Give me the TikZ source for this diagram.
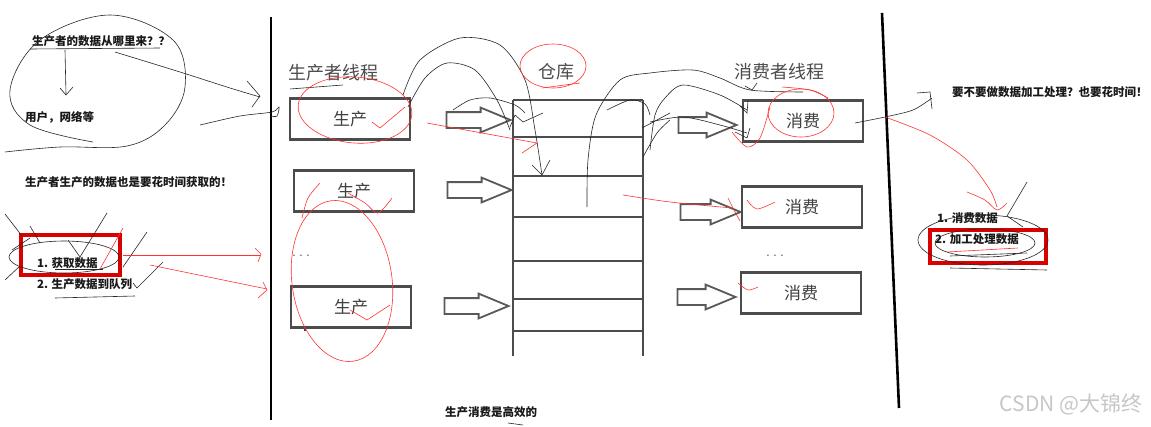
\documentclass[tikz,border=0pt]{standalone}
\usepackage{fontspec}
\newfontfamily\cjk{Noto Sans CJK SC}
\usetikzlibrary{shapes.arrows}
\tikzset{
 note/.style={font=\cjk\bfseries\fontsize{11.5}{13}\selectfont, inner sep=0, anchor=west, text=black!90},
 ttl/.style={font=\cjk\fontsize{18}{20}\selectfont, text=black!70, inner sep=0},
 tbox/.style={draw=black!70, line width=2.2pt, minimum width=120, minimum height=41, font=\cjk\fontsize{17}{19}\selectfont, text=black!75, inner sep=0},
 barrow/.style={single arrow, draw=black!65, line width=1.8pt, fill=white, minimum height=64, inner xsep=0pt, inner ysep=7pt, single arrow head extend=4.5pt, single arrow tip angle=45},
 redbox/.style={draw=red!85!black, line width=4pt},
 pen/.style={line width=0.6pt, black!85},
 rpen/.style={line width=0.6pt, red!80},
 sep/.style={line width=2.6pt},
 wh/.style={line width=2pt, black!70},
}
\begin{document}
\begin{tikzpicture}[x=1pt,y=-1pt]
\useasboundingbox (0,0) rectangle (1151,426);
\fill[white] (0,0) rectangle (1151,426);
% separators
\draw[sep] (271,17) -- (271,420);
\draw[sep] (882,13) -- (899,408);
% left notes
\node[note] (q1) at (32,41) {生产者的数据从哪里来？？};
\node[note] (q2) at (25,117) {用户，网络等};
\node[note] (q3) at (25,182) {生产者生产的数据也是要花时间获取的！};
\node[note] (s1) at (37,263) {1. 获取数据};
\node[note] (s2) at (37,284) {2. 生产数据到队列};
\draw[redbox] (21,235) rectangle (120,275);
% titles
\node[ttl] (tp) at (333,73) {生产者线程};
\node[ttl] (tw) at (556,72) {仓库};
\node[ttl] (tc) at (779,72) {消费者线程};
% producer boxes
\node[tbox] (p1) at (350,119) {生产};
\node[tbox] (p2) at (354,191) {生产};
\node[tbox] (p3) at (351,307) {生产};
\node[font=\cjk\fontsize{12}{12}\selectfont, text=black!60, inner sep=0] (pd) at (301,256) {. . .};
\fill (305,330) circle (1.2);
% producer arrows
\node[barrow] (a1) at (469,120) {};
\node[barrow] (a2) at (470,190) {};
\node[barrow] (a3) at (467,306) {};
% warehouse
\draw[wh] (513,100) -- (513,356) (643,100) -- (643,356);
\foreach \yy in {100,137,176,217,261,299,331} \draw[wh] (513,\yy) -- (643,\yy);
% consumer arrows
\node[barrow, minimum height=58] (c1a) at (698,125) {};
\node[barrow, minimum height=60] (c2a) at (701,212) {};
\node[barrow, minimum height=58] (c3a) at (697,297) {};
% consumer boxes
\node[tbox] (c1) at (803,121) {消费};
\node[tbox] (c2) at (802,207) {消费};
\node[tbox] (c3) at (801,293) {消费};
\node[font=\cjk\fontsize{12}{12}\selectfont, text=black!60, inner sep=0] (cd) at (775,256) {. . .};
% right notes
\node[note] (r1) at (952,92) {要不要做数据加工处理？也要花时间！};
\node[note] (r2) at (937,218) {1. 消费数据};
\node[note] (r3) at (935,239) {2. 加工处理数据};
\draw[redbox] (930,230) rectangle (1046,263);
% bottom
\node[note, anchor=center] (bt) at (491,412) {生产消费是高效的};
\draw[pen] (508,423) -- (523,425);
\node[font=\cjk\fontsize{21}{21}\selectfont, text=black!22, inner sep=0] (wm) at (1071,404) {CSDN @大锦终};

% ---- black scribbles, left
\draw[pen] plot[smooth, tension=0.6] coordinates {(5,152) (60,147) (127,146) (165,125) (185,87) (173,40) (110,15) (40,40) (10,90) (30,125) (93,142)};
\draw[pen] (30,49) -- (160,48);
\draw[pen] (65,50) -- (66,94);
\draw[pen] (60,88) -- (66,95) -- (73,87);
\draw[pen] plot[smooth] coordinates {(115,52) (180,72) (230,88) (260,97)};
\draw[pen] (247,81) -- (260,96) -- (252,107);
\draw[pen] plot[smooth] coordinates {(200,125) (240,116) (272,112) (279,107) (277,116) (271,116)};
\draw[pen] (64,257) ellipse [x radius=55, y radius=16];
\draw[pen] (5,214) -- (22,236);
\draw[pen] (5,280) -- (20,266);
\draw[pen] (30,226) -- (40,243);
\draw[pen] (12,250) -- (30,238);
\draw[pen] (68,240) -- (80,257) -- (107,213);
\draw[pen] (147,232) -- (123,267);
\draw[pen] (55,269) -- (103,269);
\draw[pen] (133,283) -- (137,288) -- (163,262);
\draw[pen] (55,298) -- (135,296);
% ---- red scribbles, left
\draw[rpen] (123,255) -- (260,255);
\draw[rpen] (255,248) -- (261,254) -- (258,262);
\draw[rpen] (150,265) -- (267,289);
\draw[rpen] (263,282) -- (267,290) -- (258,298);
\draw[rpen] (100,269) -- (123,228);

% ---- black scribbles, middle
\draw[pen] (290,89) -- (343,85);
\draw[pen] plot[smooth] coordinates {(403,95) (420,60) (460,38) (500,45) (525,80) (535,130) (542,175)};
\draw[pen] (532,165) -- (542,175) -- (550,160);
\draw[pen] plot[smooth] coordinates {(408,107) (425,78) (447,63) (475,70) (497,100) (510,130)};
\draw[pen] plot[smooth] coordinates {(453,110) (470,100) (490,98) (515,105) (525,113)};
\draw[pen] (510,127) -- (515,115) -- (523,122) -- (543,113);
\draw[pen] plot[smooth] coordinates {(587,207) (588,160) (596,115) (620,80) (650,73) (693,70) (720,78) (750,90) (803,92)};
\draw[pen] (745,86) -- (752,90) -- (757,83);
\draw[pen] plot[smooth] coordinates {(650,150) (655,115) (665,98) (683,85) (720,95) (747,110)};
\draw[pen] (740,106) -- (747,113) -- (748,101);
\draw[pen] plot[smooth] coordinates {(650,122) (683,117) (720,125) (747,133)};
\draw[pen] (735,132) -- (747,138) -- (750,128);
\draw[pen] plot[smooth] coordinates {(607,110) (630,100) (645,104) (650,115)};
\draw[pen] (642,128) -- (670,113);
\draw[pen] plot[smooth] coordinates {(643,157) (657,133) (670,120)};
\draw[pen] plot[smooth] coordinates {(855,123) (885,117) (913,110) (932,98)};
\draw[pen] (917,93) -- (930,92) -- (932,109);
% ---- red scribbles, middle
\draw[rpen, rotate around={-5:(355,110)}] (355,110) ellipse [x radius=57, y radius=33];
\draw[rpen] (372,122) -- (380,128) -- (405,107);
\draw[rpen] (427,123) -- (537,143) -- (522,153);
\draw[rpen] plot[smooth] coordinates {(623,195) (670,202) (732,208)};
\draw[rpen] plot[smooth] coordinates {(728,198) (734,210) (740,221)};
\draw[rpen] plot[smooth] coordinates {(747,200) (757,209) (775,202)};
\draw[rpen] plot[smooth] coordinates {(320,183) (308,198) (302,218)};
\draw[rpen] plot[smooth] coordinates {(348,193) (365,203) (378,213) (392,198)};
\draw[rpen, rotate around={8:(342,281)}] (342,281) ellipse [x radius=50, y radius=81];
\draw[rpen] (350,310) -- (367,320) -- (390,305);
\draw[rpen] (553,66) ellipse [x radius=33, y radius=22];
\draw[rpen] (542,88) -- (580,83);
\draw[rpen] (801,113) ellipse [x radius=33, y radius=24];
\draw[rpen] plot[smooth] coordinates {(782,87) (810,90) (828,98)};
\draw[rpen] plot[smooth] coordinates {(770,107) (760,138) (747,147) (732,132)};
\draw[rpen] plot[smooth] coordinates {(738,283) (748,290) (758,287)};
\draw[rpen] plot[smooth] coordinates {(885,117) (930,135) (967,160) (990,190) (997,207)};
\draw[rpen] plot[smooth] coordinates {(967,192) (985,200) (997,210) (1007,203)};
% ---- right scribbles
\draw[pen] (983,240) ellipse [x radius=65, y radius=25];
\draw[pen] (985,243) ellipse [x radius=50, y radius=14];
\draw[pen] (1027,182) -- (1007,216) -- (1023,227);
\draw[pen] (950,256) -- (1027,253);
\draw[pen] (950,268) -- (1047,270);
\draw[rpen] (947,252) -- (1018,248);
\end{tikzpicture}
\end{document}
